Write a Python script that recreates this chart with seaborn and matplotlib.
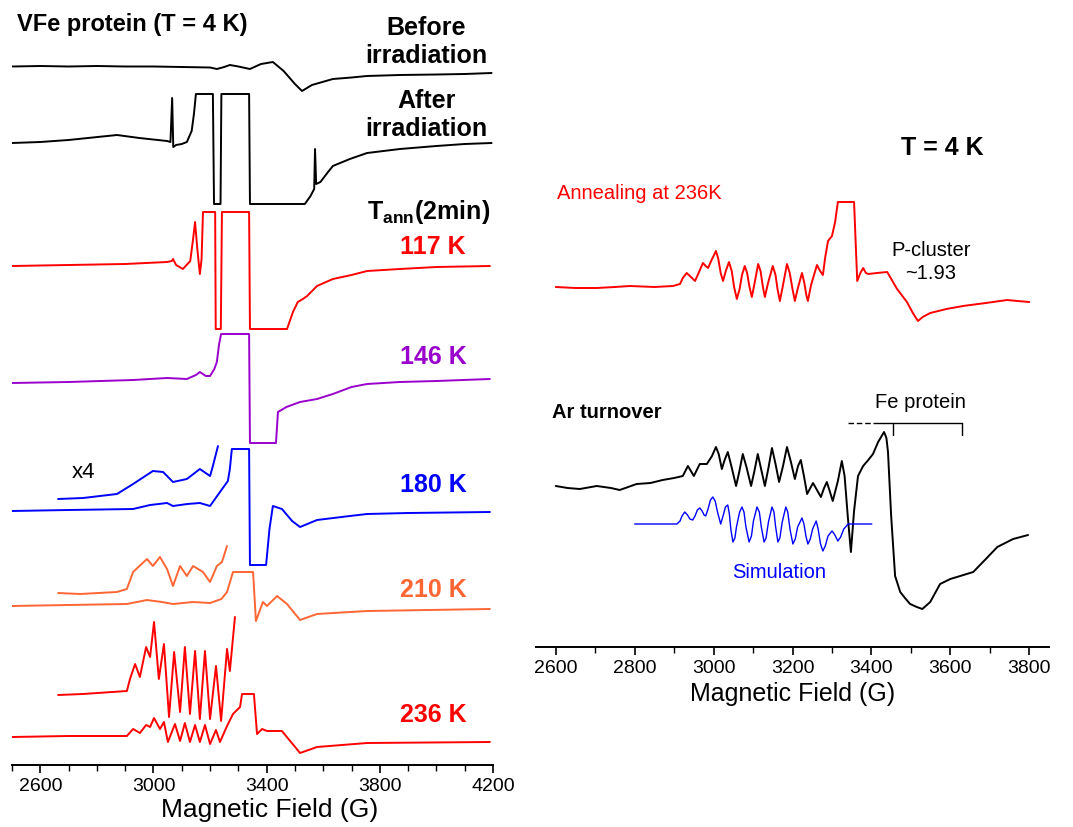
import matplotlib
matplotlib.use('Agg')
import matplotlib.pyplot as plt
import matplotlib.ticker as mticker
import seaborn as sns
import pandas as pd

# ---------------- left panel: VFe protein, T = 4 K (field in G, signal in a.u.)
before_field = [2500, 2600, 2700, 2800, 2900, 3000, 3100, 3200, 3224, 3250, 3270, 3300, 3341, 3380,
                3422, 3460, 3500, 3525, 3560, 3634, 3700, 3754, 3871, 4000, 4100, 4195]
before_signal = [-0.5, 0, -0.5, 0, -0.5, -0.5, -1, -1.5, -3, -1, 1, -0.5, -3, 2,
                 4, -5, -18, -25, -19, -13, -11.5, -10, -9, -8.5, -8, -7]

after_field = [2500, 2600, 2700, 2871, 2950, 3048, 3060, 3066, 3070, 3080, 3100, 3118, 3135, 3143,
               3150, 3210, 3214, 3237, 3240, 3338, 3341, 3535, 3555, 3568, 3571, 3575, 3590, 3617,
               3634, 3694, 3755, 3871, 4000, 4100, 4195]
after_signal = [0, 1, 3, 8, 5, 2, 1, 45, -4, -2, -1, 1, 12, 29,
                49, 49, -61, -61, 49, 49, -61, -61, -53, -46, -6, -41, -39, -29,
                -23, -16, -10, -6, -3, -1, 0]

t117_field = [2500, 2700, 2900, 3048, 3065, 3069, 3080, 3104, 3130, 3140, 3147, 3155, 3164, 3170,
              3175, 3218, 3220, 3238, 3242, 3338, 3341, 3472, 3493, 3510, 3528, 3543, 3578, 3634,
              3700, 3755, 3871, 4000, 4189]
t117_signal = [0, 1, 2, 4, 5, 7, 1, -3, 5, 27, 44, 17, -8, 7,
               54, 54, -63, -63, 54, 54, -63, -63, -46, -36, -33, -30, -20, -13,
               -9, -5, -3, -1, 0]

t146_field = [2500, 2700, 2928, 3048, 3118, 3150, 3164, 3185, 3200, 3215, 3224, 3232, 3239, 3338,
              3341, 3433, 3440, 3470, 3518, 3578, 3634, 3700, 3755, 3871, 4000, 4189]
t146_signal = [0, 1, 3, 5, 4, 8, 11, 7, 7, 14, 21, 39, 49, 49,
               -60, -60, -29, -24, -19, -16, -11, -4, -1, 1, 2, 4]

t180_field = [2500, 2700, 2928, 2988, 3048, 3069, 3120, 3164, 3200, 3235, 3263, 3270, 3277, 3338,
              3341, 3398, 3410, 3422, 3454, 3490, 3518, 3578, 3694, 3755, 3900, 4189]
t180_signal = [0, 1, 2, 6, 8, 5, 7, 8, 5, 19, 30, 42, 62, 62,
               -54, -54, -18, 5, 2, -10, -16, -9, -5, -3, -2, -1]
t180_x4_field = [2663, 2751, 2871, 2928, 2998, 3034, 3069, 3118, 3164, 3200, 3210, 3228]
t180_x4_signal = [12, 13, 17, 27, 40, 39, 29, 32, 42, 35, 45, 65]

t210_field = [2500, 2700, 2906, 2977, 3030, 3069, 3140, 3200, 3240, 3260, 3281, 3352, 3362, 3387,
              3401, 3437, 3472, 3518, 3578, 3755, 4189]
t210_signal = [0, 1, 2, 6, 4, 2, 4, 3, 7, 14, 34, 34, -15, 4,
               0, 10, 2, -14, -8, -5, -3]
t210_x4_field = [2663, 2740, 2871, 2906, 2928, 2977, 2998, 3023, 3048, 3069, 3094, 3118, 3140,
                 3175, 3200, 3224, 3242, 3260]
t210_x4_signal = [13, 12, 14, 17, 34, 47, 40, 49, 37, 20, 40, 30, 40,
                  34, 24, 40, 44, 60]

t236_field = [2500, 2700, 2906, 2928, 2952, 2974, 2988, 3002, 3023, 3037, 3051, 3076, 3094, 3111,
              3129, 3147, 3164, 3182, 3200, 3221, 3235, 3260, 3281, 3306, 3313, 3355, 3366, 3384,
              3401, 3454, 3518, 3578, 3755, 4189]
t236_signal = [0, 1, 1, 8, 4, 12, 10, 19, 8, 15, -5, 13, -4, 14,
               -5, 12, -5, 12, -7, 7, -5, 11, 23, 30, 43, 43, 3, 8,
               6, 6, -16, -10, -6, -5]
t236_x4_field = [2663, 2751, 2906, 2917, 2935, 2952, 2974, 2988, 3002, 3019, 3037, 3055, 3073,
                 3094, 3111, 3129, 3147, 3164, 3182, 3200, 3221, 3239, 3260, 3270, 3288]
t236_x4_signal = [42, 43, 46, 58, 73, 60, 90, 80, 115, 58, 93, 20, 85,
                  25, 90, 23, 86, 18, 86, 18, 71, 16, 88, 66, 120]

# ---------------- right panel: annealed sample vs Ar turnover
anneal_field = [2600, 2650, 2704, 2750, 2788, 2850, 2897, 2915, 2922, 2932, 2940, 2953, 2962, 2973,
                2980, 2986, 2995, 3006, 3012, 3018, 3024, 3031, 3039, 3046, 3052, 3059, 3066, 3072,
                3079, 3085, 3091, 3097, 3104, 3113, 3119, 3125, 3130, 3138, 3150, 3157, 3162, 3168,
                3175, 3186, 3193, 3200, 3206, 3213, 3224, 3230, 3235, 3239, 3247, 3262, 3270, 3277,
                3283, 3290, 3300, 3308, 3315, 3356, 3364, 3372, 3379, 3386, 3392, 3414, 3440, 3465,
                3490, 3505, 3518, 3530, 3549, 3590, 3632, 3690, 3744, 3770, 3800]
anneal_signal = [0, -1, -1, 0, 1, 0, 1, 3, 9, 14, 11, 6, 14, 24,
                 21, 19, 27, 36, 28, 14, 6, 16, 25, 16, 0, -12, -2, 12,
                 21, 14, 0, -10, 4, 23, 16, 0, -10, 4, 21, 12, -2, -14,
                 0, 23, 14, -2, -14, -2, 14, 4, -8, -14, 2, 22, 16, 12,
                 30, 46, 51, 65, 85, 85, 6, 14, 19, 14, 13, 14, 15, -2,
                 -15, -26, -34, -30, -26, -22, -19, -16, -13, -14, -15]

ar_field = [2600, 2630, 2661, 2704, 2740, 2762, 2805, 2840, 2871, 2900, 2922, 2935, 2950, 2965,
            2983, 2996, 3006, 3013, 3021, 3028, 3036, 3045, 3057, 3065, 3074, 3084, 3095, 3103,
            3112, 3121, 3130, 3139, 3148, 3157, 3166, 3176, 3186, 3196, 3206, 3214, 3221, 3229,
            3237, 3252, 3262, 3272, 3280, 3287, 3295, 3302, 3315, 3325, 3332, 3340, 3348, 3356,
            3366, 3379, 3392, 3404, 3417, 3432, 3438, 3442, 3450, 3460, 3473, 3485, 3498, 3515,
            3529, 3549, 3574, 3600, 3625, 3658, 3690, 3719, 3759, 3797]
ar_signal = [0, -2, -3, 0, -2, -4, 2, 3, 6, 8, 10, 20, 10, 22,
             22, 30, 39, 32, 17, 26, 34, 20, 0, 14, 32, 18, 0, 14,
             32, 16, 0, 18, 38, 22, 4, 20, 39, 24, 7, 20, 26, 10,
             -8, 3, -4, -11, -2, 4, -6, -15, 5, 25, 10, -30, -66, -25,
             10, 20, 26, 32, 44, 54, 48, 34, -30, -90, -106, -112, -118, -121,
             -123, -116, -98, -93, -90, -86, -73, -61, -53, -49]

sim_field = [2800, 2907, 2915, 2920, 2927, 2934, 2940, 2947, 2953, 2959, 2965, 2971, 2976, 2980,
             2986, 2992, 2998, 3004, 3010, 3018, 3024, 3030, 3036, 3040, 3044, 3049, 3054, 3058,
             3066, 3072, 3077, 3082, 3090, 3096, 3101, 3110, 3116, 3121, 3128, 3133, 3139, 3148,
             3153, 3157, 3163, 3168, 3174, 3183, 3188, 3194, 3201, 3207, 3213, 3224, 3229, 3234,
             3239, 3245, 3251, 3260, 3265, 3271, 3277, 3283, 3290, 3300, 3306, 3315, 3322, 3330,
             3341, 3401]
sim_signal = [0, 0, 3, 8, 12, 9, 5, 4, 8, 14, 16, 13, 9, 8,
              15, 24, 27, 23, 12, 0, 8, 17, 19, 10, -6, -18, -14, -3,
              12, 17, 12, -3, -18, -12, 3, 17, 12, -3, -18, -14, 2, 17,
              12, -2, -18, -14, 2, 17, 12, -6, -20, -15, -3, 6, 0, -12,
              -20, -15, -5, 3, -5, -20, -27, -22, -12, -7, -10, -17, -13, -5,
              0, 0]

fe_bracket = [3341, 3414, 3455, 3630]

# baselines of the stacked traces (px from top of each panel)
left_base = [67, 144, 267, 384, 512, 607, 738]
right_base = [288, 487, 525]

RED = '#ff0000'
PURPLE = '#9900cc'
BLUE = '#0000ff'
ORANGE = '#ff6633'

sns.set_style('white')
plt.rcParams['font.family'] = ['Liberation Sans', 'DejaVu Sans']
plt.rcParams['mathtext.fontset'] = 'custom'
plt.rcParams['mathtext.rm'] = 'Liberation Sans'
plt.rcParams['mathtext.bf'] = 'Liberation Sans:bold'
plt.rcParams['text.color'] = 'black'
plt.rcParams['axes.labelcolor'] = 'black'
plt.rcParams['xtick.color'] = 'black'
plt.rcParams['axes.edgecolor'] = 'black'


def trace(ax, field, signal, base, color, lw=1.4):
    df = pd.DataFrame({'field': field, 'y': [s - base for s in signal]})
    sns.lineplot(data=df, x='field', y='y', ax=ax, color=color, lw=lw,
                 sort=False, estimator=None)


fig = plt.figure(figsize=(10.73, 8.28), dpi=100)
ax1 = fig.add_axes([12 / 1073, 62 / 828, 481 / 1073, 766 / 828])
ax2 = fig.add_axes([536 / 1073, 180 / 828, 513 / 1073, 548 / 828])

# left panel traces
trace(ax1, before_field, before_signal, left_base[0], 'black')
trace(ax1, after_field, after_signal, left_base[1], 'black')
trace(ax1, t117_field, t117_signal, left_base[2], RED)
trace(ax1, t146_field, t146_signal, left_base[3], PURPLE)
trace(ax1, t180_field, t180_signal, left_base[4], BLUE)
trace(ax1, t180_x4_field, t180_x4_signal, left_base[4], BLUE)
trace(ax1, t210_field, t210_signal, left_base[5], ORANGE)
trace(ax1, t210_x4_field, t210_x4_signal, left_base[5], ORANGE)
trace(ax1, t236_field, t236_signal, left_base[6], RED)
trace(ax1, t236_x4_field, t236_x4_signal, left_base[6], RED)

ax1.set_xlim(2500, 4200)
ax1.set_ylim(-766, 0)

big = dict(fontsize=18, fontweight='bold')
ax1.text(2518, -25, 'VFe protein (T = 4 K)', ha='left', va='center', fontsize=17, fontweight='bold')
ax1.text(3965, -42, 'Before\nirradiation', ha='center', va='center', linespacing=1.25, **big)
ax1.text(3965, -115, 'After\nirradiation', ha='center', va='center', linespacing=1.25, **big)
ax1.text(4190, -212, r'$\mathbf{T}_{\mathbf{ann}}$(2min)', ha='right', va='center', **big)
temp_labels = ['117 K', '146 K', '180 K', '210 K', '236 K']
temp_y = [247, 357, 485, 590, 715]
temp_colors = [RED, PURPLE, BLUE, ORANGE, RED]
for lab, yy, col in zip(temp_labels, temp_y, temp_colors):
    ax1.text(3988, -yy, lab, ha='center', va='center', color=col, **big)
ax1.text(2710, -473, 'x4', ha='left', va='center', fontsize=16)

# right panel traces
trace(ax2, anneal_field, anneal_signal, right_base[0], RED)
trace(ax2, ar_field, ar_signal, right_base[1], 'black')
trace(ax2, sim_field, sim_signal, right_base[2], BLUE, lw=1.0)

ax2.set_xlim(2550, 3850)
ax2.set_ylim(-648, -100)

ax2.text(3579, -148, 'T = 4 K', ha='center', va='center', fontsize=18, fontweight='bold')
ax2.text(2603, -193, 'Annealing at 236K', ha='left', va='center', fontsize=14.5, color=RED)
ax2.text(3551, -262, 'P-cluster\n~1.93', ha='center', va='center', fontsize=14.5, linespacing=1.3)
ax2.text(2590, -412, 'Ar turnover', ha='left', va='center', fontsize=14.5, fontweight='bold')
ax2.text(3523, -403, 'Fe protein', ha='center', va='center', fontsize=14.5)
ax2.text(3166, -573, 'Simulation', ha='center', va='center', fontsize=14.5, color=BLUE)

# Fe protein bracket
ax2.plot(fe_bracket[:2], [-424, -424], color='black', lw=1, ls=(0, (4, 2)))
ax2.plot([fe_bracket[1], fe_bracket[3]], [-424, -424], color='black', lw=1)
ax2.plot([fe_bracket[2], fe_bracket[2]], [-424, -436], color='black', lw=1)
ax2.plot([fe_bracket[3], fe_bracket[3]], [-424, -436], color='black', lw=1)

# axes styling
for ax, major in ((ax1, 400), (ax2, 200)):
    sns.despine(ax=ax, left=True, top=True, right=True)
    ax.spines['bottom'].set_linewidth(1.4)
    ax.set_yticks([])
    ax.set_ylabel('')
    ax.xaxis.set_major_locator(mticker.MultipleLocator(major))
    ax.xaxis.set_minor_locator(mticker.MultipleLocator(100))
    ax.tick_params(axis='x', which='major', direction='out', length=6, width=1.2,
                   labelsize=14, pad=3, bottom=True)
    ax.tick_params(axis='x', which='minor', direction='out', length=4, width=1.0, bottom=True)
    ax.patch.set_alpha(0)

ax1.set_xticks([2600, 3000, 3400, 3800, 4200])
ax2.set_xticks([2600, 2800, 3000, 3200, 3400, 3600, 3800])
ax1.set_xlabel('Magnetic Field (G)', fontsize=19, va='top')
ax1.xaxis.set_label_coords((270 - 12) / 481, -(798 - 766) / 766)
ax2.set_xlabel('Magnetic Field (G)', fontsize=18, labelpad=3)

fig.savefig('out.png', dpi=100)
